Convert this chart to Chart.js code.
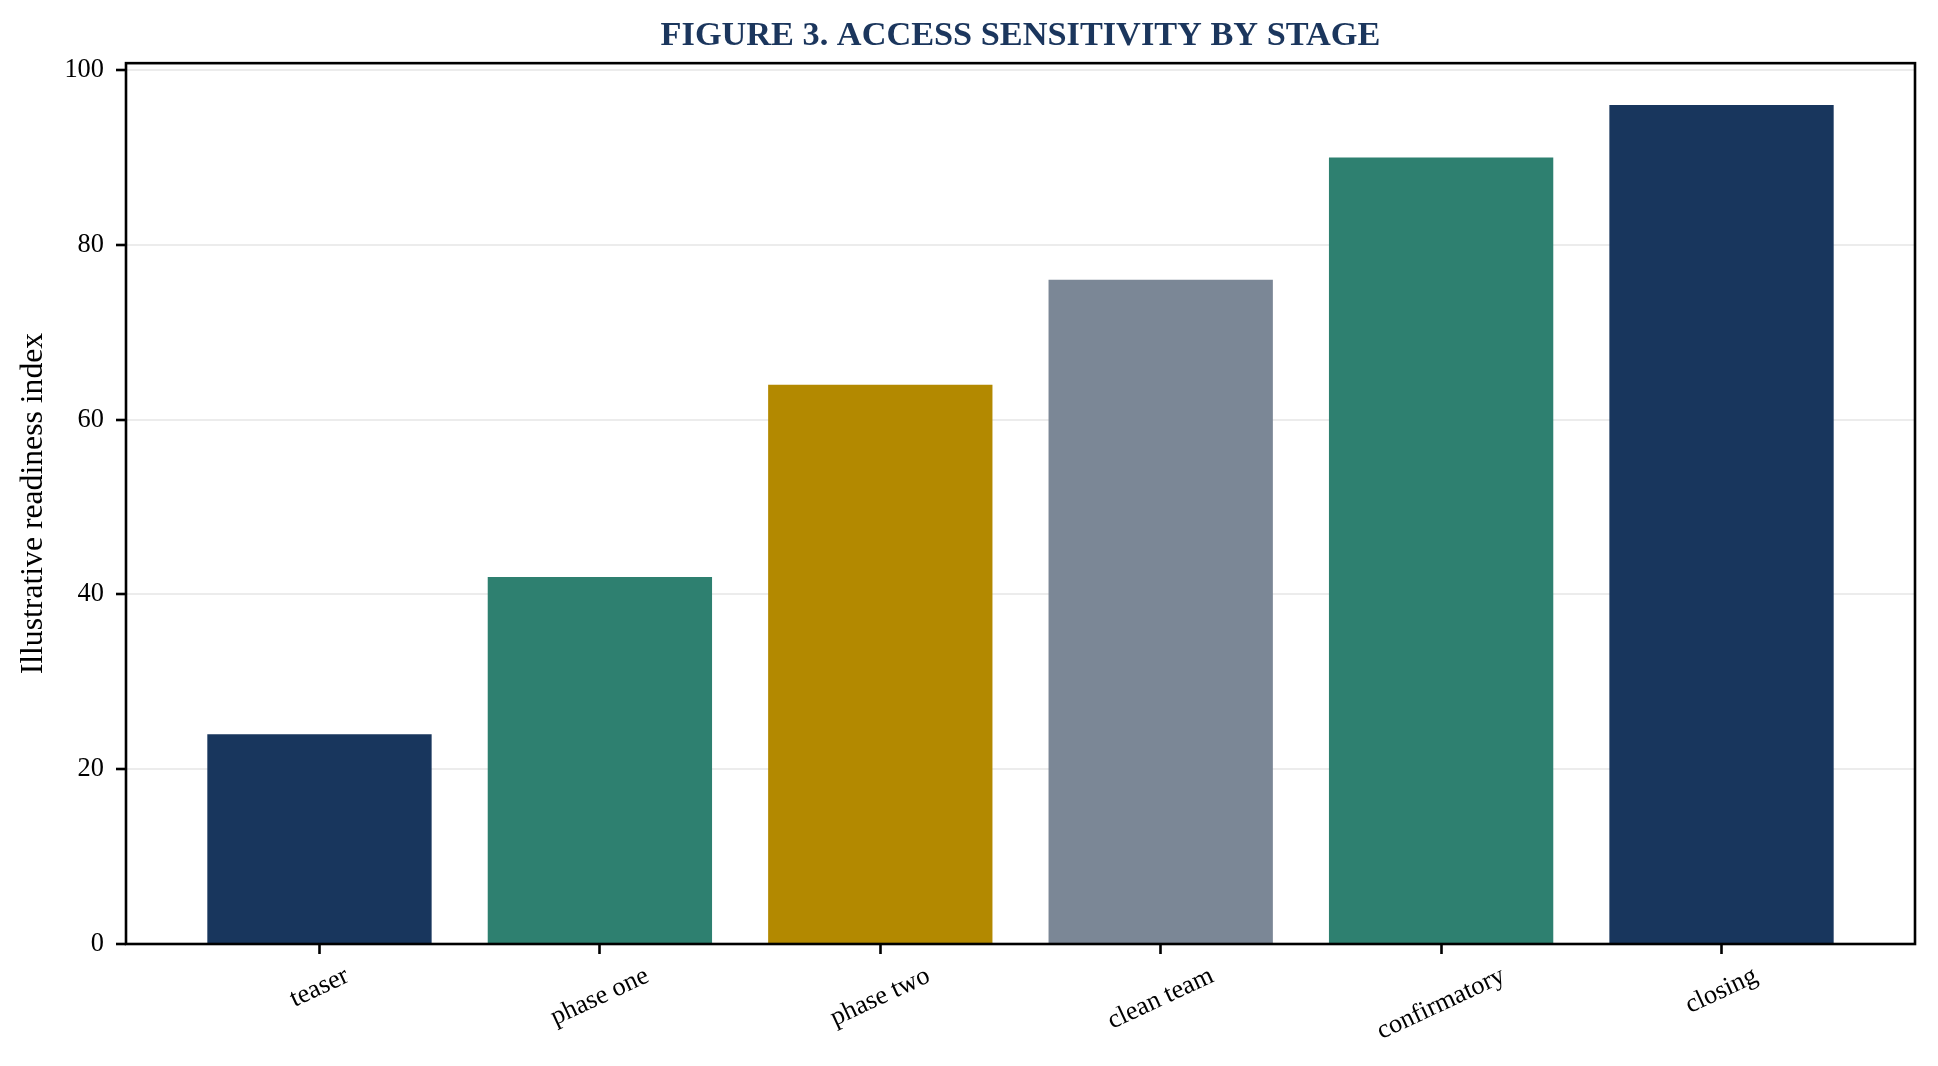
<!DOCTYPE html>
<html><head><meta charset="utf-8">
<script src="https://cdn.jsdelivr.net/npm/chart.js@4.4.1/dist/chart.umd.min.js"></script>
<style>html,body{margin:0;padding:0;background:#fff;}canvas{display:block;}</style>
</head><body>
<canvas id="c" width="1938" height="1066"></canvas>
<script>
const categories = ['teaser', 'phase one', 'phase two', 'clean team', 'confirmatory', 'closing'];
const values = [24, 42, 64, 76, 90, 96];
const barColors = ['#18365D', '#2E8070', '#B38900', '#7B8796', '#2E8070', '#18365D'];
const yTicks = [0, 20, 40, 60, 80, 100];
const titleText = 'FIGURE 3. ACCESS SENSITIVITY BY STAGE';
const yTitleText = 'Illustrative readiness index';

const FONT = "'Liberation Serif', 'Times New Roman', serif";
const TICK_SIZE = 26.4;

const frame = {
  id: 'frame',
  afterDraw(chart) {
    const {ctx, chartArea: a} = chart;
    ctx.save();
    ctx.strokeStyle = '#000';
    ctx.lineWidth = 2.6;
    ctx.strokeRect(a.left, a.top, a.right - a.left, a.bottom - a.top);
    ctx.restore();
  }
};

const xLabels = {
  id: 'xLabels',
  afterDraw(chart) {
    const xs = chart.scales.x;
    const ctx = chart.ctx;
    const ang = 25 * Math.PI / 180;
    const top = chart.chartArea.bottom + 17;
    ctx.save();
    ctx.font = TICK_SIZE + 'px ' + FONT;
    ctx.fillStyle = '#000';
    ctx.textAlign = 'center';
    ctx.textBaseline = 'middle';
    xs.ticks.forEach(t => {
      const i = t.value;
      const label = categories[i];
      const w = ctx.measureText(label).width;
      const H = w * Math.sin(ang) + TICK_SIZE * 1.15 * Math.cos(ang);
      const cx = xs.getPixelForValue(i);
      const cy = top + H / 2;
      ctx.save();
      ctx.translate(cx, cy);
      ctx.rotate(-ang);
      ctx.fillText(label, 0, 0);
      ctx.restore();
    });
    ctx.restore();
  }
};

new Chart(document.getElementById('c'), {
  type: 'bar',
  data: {
    datasets: [{
      data: values.map((v, i) => ({x: i, y: v})),
      backgroundColor: barColors,
      borderWidth: 0,
      barPercentage: 0.8,
      categoryPercentage: 1.0
    }]
  },
  options: {
    responsive: false,
    maintainAspectRatio: false,
    devicePixelRatio: 1,
    animation: false,
    events: [],
    layout: {padding: {top: 0, left: 0, right: 23, bottom: 0}},
    plugins: {
      legend: {display: false},
      tooltip: {enabled: false},
      title: {
        display: true,
        text: titleText,
        fullSize: false,
        color: '#1B365D',
        font: {family: FONT, size: 34.3, weight: 'bold', lineHeight: 1.2},
        padding: {top: 16, bottom: 6}
      }
    },
    scales: {
      x: {
        type: 'linear',
        min: -0.69,
        max: 5.69,
        offset: false,
        afterBuildTicks: s => { s.ticks = categories.map((c, i) => ({value: i})); },
        afterFit: s => { s.height = 122; s.paddingLeft = 0; s.paddingRight = 0; },
        ticks: {display: false},
        grid: {display: true, offset: false, drawOnChartArea: false, drawTicks: true, tickLength: 10, tickColor: '#000', tickWidth: 2.6},
        border: {display: false}
      },
      y: {
        type: 'linear',
        min: 0,
        max: 100.8,
        z: 1,
        afterBuildTicks: s => { s.ticks = yTicks.map(v => ({value: v})); },
        afterFit: s => { s.width = 126; s.paddingTop = 0; s.paddingBottom = 0; },
        ticks: {color: '#000', padding: 12, font: {family: FONT, size: TICK_SIZE}},
        grid: {color: 'rgba(150,150,150,0.18)', lineWidth: 2, drawTicks: true, tickLength: 10, tickColor: '#000', tickWidth: 2.6},
        border: {display: false},
        title: {display: true, text: yTitleText, color: '#000', font: {family: FONT, size: 31.7, lineHeight: 1.2}, padding: {top: 15, bottom: 0}}
      }
    }
  },
  plugins: [frame, xLabels]
});
</script>
</body></html>
